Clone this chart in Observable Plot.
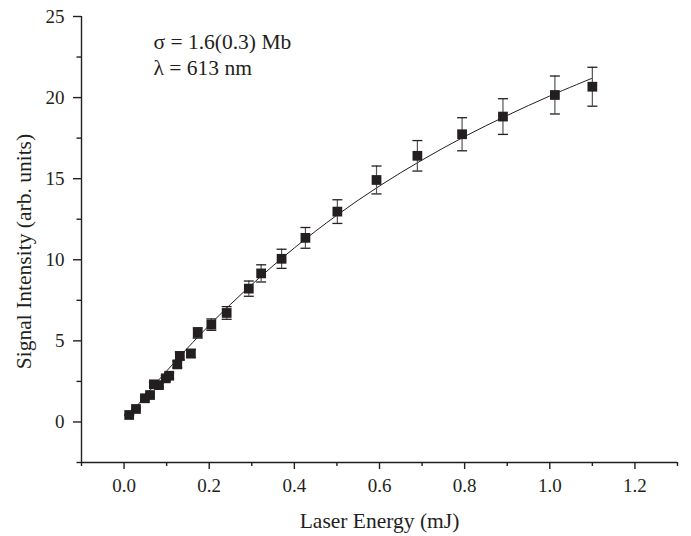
<!DOCTYPE html>
<html><head><meta charset="utf-8">
<script src="https://cdn.jsdelivr.net/npm/d3@7"></script>
<script src="https://cdn.jsdelivr.net/npm/@observablehq/plot@0.6"></script>
<style>body{margin:0;background:#fff}</style>
</head><body><div id="chart"></div>
<script>
// Data
const energy = [0.012, 0.028, 0.049, 0.061, 0.070, 0.082, 0.098, 0.106, 0.125, 0.131, 0.157, 0.173, 0.205, 0.241, 0.293, 0.322, 0.370, 0.426, 0.501, 0.593, 0.689, 0.794, 0.890, 1.012, 1.100];
const signal = [0.43, 0.80, 1.46, 1.66, 2.32, 2.27, 2.69, 2.85, 3.55, 4.07, 4.22, 5.49, 6.00, 6.72, 8.22, 9.16, 10.06, 11.35, 12.97, 14.92, 16.41, 17.74, 18.83, 20.16, 20.67];
const errors = [0.03, 0.05, 0.09, 0.10, 0.13, 0.13, 0.16, 0.17, 0.21, 0.24, 0.25, 0.32, 0.35, 0.39, 0.47, 0.53, 0.59, 0.64, 0.73, 0.86, 0.94, 1.02, 1.10, 1.17, 1.20];
const fitX = [0.01, 0.05, 0.1, 0.2, 0.3, 0.4, 0.5, 0.6, 0.7, 0.8, 0.9, 1.0, 1.1];
const fitY = [0.33, 1.61, 3.14, 5.96, 8.47, 10.73, 12.75, 14.55, 16.15, 17.6, 18.9, 20.1, 21.2];
const xTicksMajor = [0, 0.2, 0.4, 0.6, 0.8, 1.0, 1.2];
const xTicksMinor = [-0.1, 0.1, 0.3, 0.5, 0.7, 0.9, 1.1, 1.3];
const yTicksMajor = [0, 5, 10, 15, 20, 25];
const yTicksMinor = [-2.5, 2.5, 7.5, 12.5, 17.5, 22.5];
const xDomain = [-0.1, 1.3];
const yDomain = [-2.5, 25];
const xTitle = "Laser Energy (mJ)";
const yTitle = "Signal Intensity (arb. units)";
const annotation = "σ = 1.6(0.3) Mb\nλ = 613 nm";

const points = energy.map((x, i) => ({x, y: signal[i], lo: signal[i] - errors[i], hi: signal[i] + errors[i]}));
const fit = fitX.map((x, i) => ({x, y: fitY[i]}));
const ink = "#231f20";
const capSymbol = {draw(ctx) { ctx.moveTo(-5, 0); ctx.lineTo(5, 0); }};
const font = "'Liberation Serif', 'Times New Roman', serif";

const chart = Plot.plot({
  width: 691, height: 536,
  marginLeft: 81, marginRight: 14, marginTop: 16, marginBottom: 74,
  style: {fontFamily: font, background: "#fff", color: ink},
  x: {domain: xDomain},
  y: {domain: yDomain},
  marks: [
    Plot.ruleY([yDomain[0]], {x1: xDomain[0], x2: xDomain[1], stroke: ink, strokeWidth: 1.4}),
    Plot.ruleX([xDomain[0]], {y1: yDomain[0], y2: yDomain[1], stroke: ink, strokeWidth: 1.4}),
    Plot.axisX(xTicksMajor, {tickSize: 7, tickPadding: 9, tickFormat: d3.format(".1f"), fontSize: 19, strokeWidth: 1.4, label: null}),
    Plot.axisX(xTicksMinor, {tickSize: 4, tickFormat: () => "", strokeWidth: 1.4, label: null}),
    Plot.axisY(yTicksMajor, {tickSize: 8, tickPadding: 9, fontSize: 19, strokeWidth: 1.4, label: null}),
    Plot.axisY(yTicksMinor, {tickSize: 4.5, tickFormat: () => "", strokeWidth: 1.4, label: null}),
    Plot.line(fit, {x: "x", y: "y", curve: "catmull-rom", stroke: ink, strokeWidth: 1}),
    Plot.ruleX(points, {x: "x", y1: "lo", y2: "hi", stroke: "#555", strokeWidth: 1.2}),
    Plot.dot(points, {x: "x", y: "hi", symbol: capSymbol, stroke: ink, strokeWidth: 1.3}),
    Plot.dot(points, {x: "x", y: "lo", symbol: capSymbol, stroke: ink, strokeWidth: 1.3}),
    Plot.dot(points, {x: "x", y: "y", symbol: "square", r: 5.5, fill: ink, stroke: "none"}),
    Plot.text([annotation], {frameAnchor: "top-left", dx: 72, dy: 14, textAnchor: "start", lineAnchor: "top", lineHeight: 1.2, fontSize: 21.5, fill: ink}),
    Plot.text([xTitle], {frameAnchor: "bottom", dy: 50, textAnchor: "middle", lineAnchor: "top", fontSize: 21.5, fill: ink}),
    Plot.text([yTitle], {frameAnchor: "left", dx: -57, dy: 12, rotate: -90, textAnchor: "middle", lineAnchor: "middle", fontSize: 21.5, fill: ink})
  ]
});
document.getElementById("chart").append(chart);
</script>
</body></html>
